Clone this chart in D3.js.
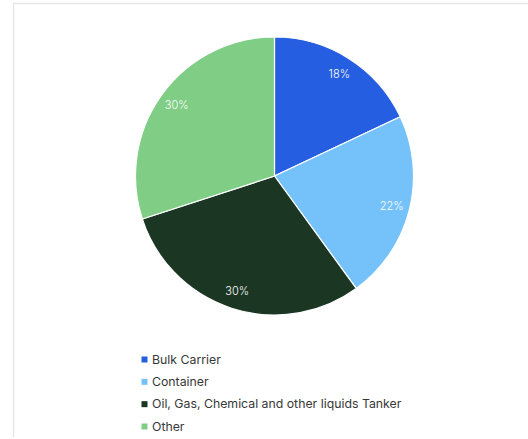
<!DOCTYPE html>
<html>
<head>
<meta charset="utf-8">
<script src="https://cdn.jsdelivr.net/npm/d3@7"></script>
<style>
  html, body { margin: 0; padding: 0; background: #fff; }
  svg { display: block; font-family: Inter, "Noto Sans", sans-serif; }
</style>
</head>
<body>
<svg id="chart" width="528" height="439"></svg>
<script>
// Fleet composition by vessel type (share, %)
const categories = ["Bulk Carrier", "Container", "Oil, Gas, Chemical and other liquids Tanker", "Other"];
const shares = [18, 22, 30, 30];
const colors = ["#255ee1", "#75c2fb", "#1b3724", "#80cd85"];

const svg = d3.select("#chart");

// card frame (left and top edges)
svg.append("path")
  .attr("d", "M13.5,437 V3.5 H528")
  .attr("fill", "none")
  .attr("stroke", "#e6e6e6")
  .attr("stroke-width", 1.5);

const cx = 274.5, cy = 176, r = 139;
const g = svg.append("g").attr("transform", `translate(${cx},${cy})`);

const data = categories.map((c, i) => ({ name: c, value: shares[i], color: colors[i] }));
const pie = d3.pie().value(d => d.value).sort(null);
const arc = d3.arc().innerRadius(0).outerRadius(r);
const labelArc = d3.arc().innerRadius(r * 0.87).outerRadius(r * 0.87);

const arcs = pie(data);

g.selectAll("path.slice")
  .data(arcs)
  .join("path")
  .attr("class", "slice")
  .attr("d", arc)
  .attr("fill", d => d.data.color)
  .attr("stroke", "#fff")
  .attr("stroke-width", 1.2);

g.selectAll("text.pct")
  .data(arcs)
  .join("text")
  .attr("class", "pct")
  .attr("transform", d => `translate(${labelArc.centroid(d)})`)
  .attr("text-anchor", "middle")
  .attr("dy", "0.35em")
  .attr("fill", "#fff")
  .attr("font-size", 11)
  .attr("font-weight", 300)
  .text(d => `${d.data.value}%`);

// legend
const legendY = d3.scalePoint().domain(categories).range([359.5, 426.5]);
const legend = svg.append("g");
const items = legend.selectAll("g.item")
  .data(data)
  .join("g")
  .attr("class", "item")
  .attr("transform", d => `translate(141.5,${legendY(d.name)})`);

items.append("rect")
  .attr("x", 0).attr("y", -3)
  .attr("width", 6).attr("height", 6)
  .attr("fill", d => d.color);

items.append("text")
  .attr("x", 10.5)
  .attr("dy", "0.35em")
  .attr("fill", "#383838")
  .attr("font-size", 12.3)
  .text(d => d.name);
</script>
</body>
</html>
